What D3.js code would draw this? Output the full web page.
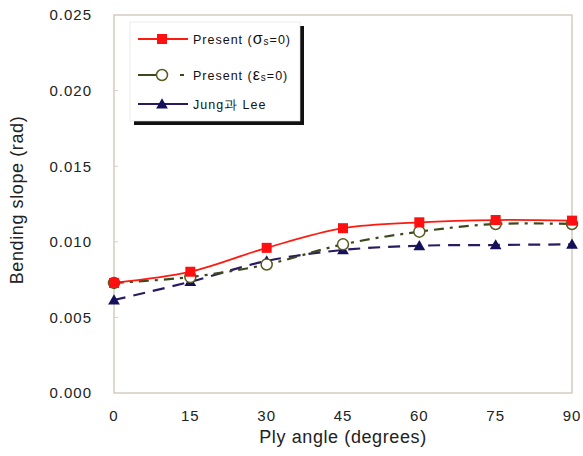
<!DOCTYPE html>
<html>
<head>
<meta charset="utf-8">
<script src="https://cdn.jsdelivr.net/npm/d3@7"></script>
<style>
  body { margin: 0; background: #fff; }
  text { font-family: Arial, "Liberation Sans", sans-serif; }
</style>
</head>
<body>
<svg id="chart" width="583" height="456"></svg>
<script>
// ply angles and the three series
var angles = [0, 15, 30, 45, 60, 75, 90];
var presentSigma = [0.00728, 0.00802, 0.0096, 0.0109, 0.01129, 0.01144, 0.0114];
var presentEps = [0.00728, 0.00767, 0.0085, 0.00983, 0.01067, 0.01118, 0.01118];
var jungLee = [0.00615, 0.00736, 0.00873, 0.00946, 0.00974, 0.00979, 0.00983];
var yTicks = [0, 0.005, 0.01, 0.015, 0.02, 0.025];
var xTicks = [0, 15, 30, 45, 60, 75, 90];

var svg = d3.select("#chart");
var pLeft = 114, pRight = 572, pTop = 15, pBottom = 393;

var x = d3.scaleLinear().domain([0, 90]).range([pLeft, pRight]);
var y = d3.scaleLinear().domain([0, 0.025]).range([pBottom, pTop]);

// plot frame
svg.append("rect")
  .attr("x", pLeft).attr("y", pTop)
  .attr("width", pRight - pLeft).attr("height", pBottom - pTop)
  .attr("fill", "none").attr("stroke", "#c8beb0").attr("stroke-width", 1.2);

// small inner ticks on left axis
svg.selectAll(".ytk").data(yTicks.slice(1, -1)).enter().append("line")
  .attr("x1", pLeft).attr("x2", pLeft + 4)
  .attr("y1", function (d) { return y(d); }).attr("y2", function (d) { return y(d); })
  .attr("stroke", "#d8d0c4");

svg.selectAll(".ylab").data(yTicks).enter().append("text")
  .attr("x", 92).attr("y", function (d) { return y(d); })
  .attr("dy", "0.36em").attr("text-anchor", "end")
  .attr("font-size", 15).attr("letter-spacing", 1).attr("fill", "#222")
  .text(function (d) { return d3.format(".3f")(d); });

svg.selectAll(".xlab").data(xTicks).enter().append("text")
  .attr("x", function (d) { return x(d); }).attr("y", 416)
  .attr("dy", "0.36em").attr("text-anchor", "middle")
  .attr("font-size", 15).attr("letter-spacing", 1).attr("fill", "#222")
  .text(function (d) { return d; });

svg.append("text")
  .attr("x", 343).attr("y", 437).attr("dy", "0.36em")
  .attr("text-anchor", "middle").attr("font-size", 18).attr("letter-spacing", 0.6)
  .attr("fill", "#222").text("Ply angle (degrees)");

svg.append("text")
  .attr("transform", "translate(17,200) rotate(-90)")
  .attr("dy", "0.36em").attr("text-anchor", "middle")
  .attr("font-size", 18).attr("letter-spacing", 0.6)
  .attr("fill", "#222").text("Bending slope (rad)");

var line = d3.line()
  .x(function (d, i) { return x(angles[i]); })
  .y(function (d) { return y(d); })
  .curve(d3.curveCardinal.tension(0));

var series = [
  { vals: presentSigma, color: "#ff1a10", dash: null, width: 1.8, marker: "square" },
  { vals: presentEps, color: "#3a4a1c", dash: "10,6,3,6", width: 2.2, marker: "circle" },
  { vals: jungLee, color: "#2a1a60", dash: "12,8", width: 2.2, marker: "triangle" }
];

function drawMarker(g, type, cx, cy) {
  if (type === "square") {
    g.append("rect").attr("x", cx - 5).attr("y", cy - 5).attr("width", 10).attr("height", 10)
      .attr("fill", "#ff1010");
  } else if (type === "circle") {
    g.append("circle").attr("cx", cx).attr("cy", cy).attr("r", 5.5)
      .attr("fill", "#fff").attr("stroke", "#5a5a20").attr("stroke-width", 1.5);
  } else {
    g.append("path").attr("d", d3.symbol().type(d3.symbolTriangle).size(60)())
      .attr("transform", "translate(" + cx + "," + (cy + 1) + ")")
      .attr("fill", "#14105a");
  }
}

// draw lines from back to front
[2, 1, 0].forEach(function (k) {
  var s = series[k];
  svg.append("path").datum(s.vals)
    .attr("d", line).attr("fill", "none")
    .attr("stroke", s.color).attr("stroke-width", s.width)
    .attr("stroke-dasharray", s.dash);
});
[2, 1, 0].forEach(function (k) {
  var s = series[k];
  var g = svg.append("g");
  s.vals.forEach(function (v, i) { drawMarker(g, s.marker, x(angles[i]), y(v)); });
});

// legend
var lg = svg.append("g");
lg.append("rect").attr("x", 134).attr("y", 26).attr("width", 170).attr("height", 99).attr("fill", "#111");
lg.append("rect").attr("x", 130).attr("y", 22).attr("width", 170).attr("height", 99)
  .attr("fill", "#fff").attr("stroke", "#ddd").attr("stroke-width", 0.6);

var legendRows = [
  { y: 39, main: "Present (", sym: "σ", sub: "s", tail: "=0)" },
  { y: 75, main: "Present (", sym: "ε", sub: "s", tail: "=0)" },
  { y: 104, main: "Jung과 Lee" }
];
legendRows.forEach(function (r, k) {
  var s = series[k];
  lg.append("line").attr("x1", 138).attr("x2", 188).attr("y1", r.y).attr("y2", r.y)
    .attr("stroke", s.color).attr("stroke-width", s.width)
    .attr("stroke-dasharray", k === 1 ? "18,24,4,100" : null);
  drawMarker(lg, s.marker, 162, r.y);
  var t = lg.append("text").attr("x", 193).attr("y", r.y).attr("dy", "0.36em")
    .attr("font-size", 12.5).attr("letter-spacing", 1).attr("fill", "#111");
  if (r.sym) {
    t.append("tspan").text(r.main);
    t.append("tspan").attr("font-size", 16).text(r.sym);
    t.append("tspan").attr("font-size", 10).attr("dy", 1).text(r.sub);
    t.append("tspan").attr("dy", -1).text(r.tail);
  } else {
    t.text(r.main);
  }
});
</script>
</body>
</html>
